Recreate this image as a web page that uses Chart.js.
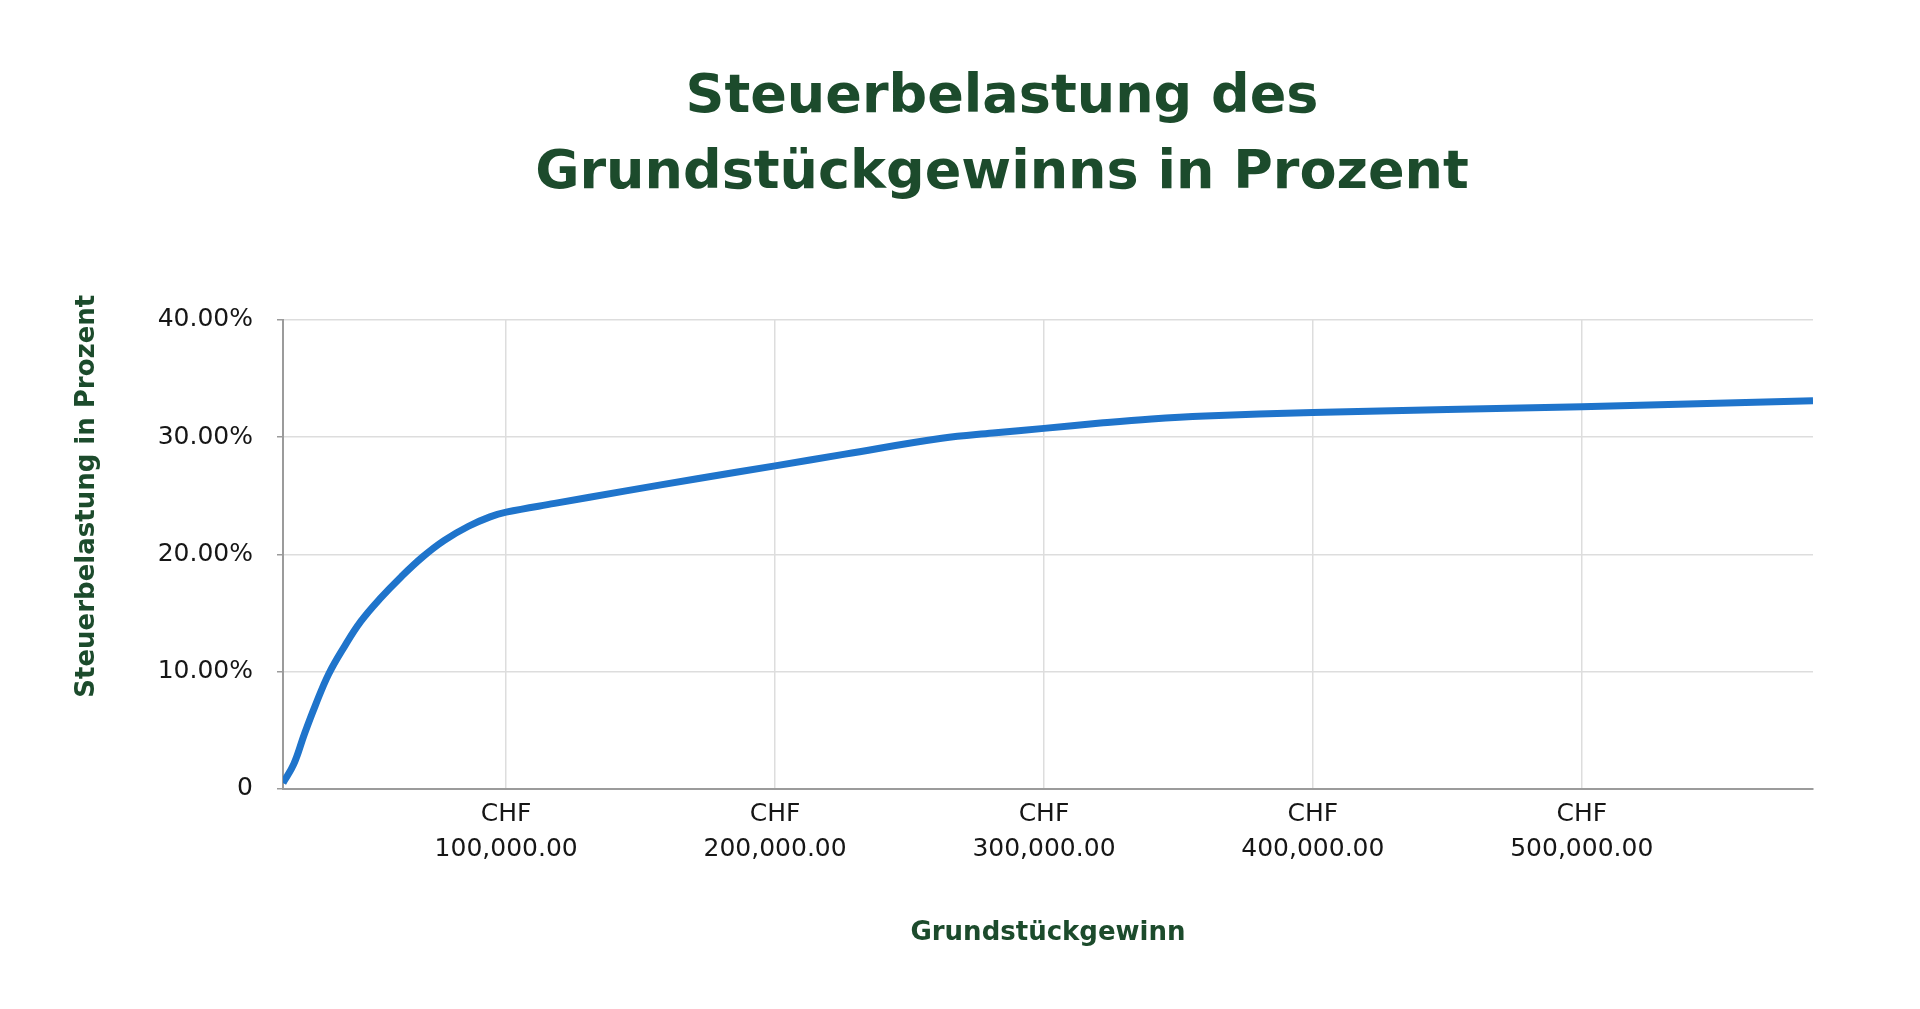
<!DOCTYPE html>
<html>
<head>
<meta charset="utf-8">
<script src="https://cdn.jsdelivr.net/npm/chart.js@4.4.1/dist/chart.umd.min.js"></script>
<style>
  html, body { margin: 0; padding: 0; background: #ffffff; }
  #c { display: block; }
</style>
</head>
<body>
<canvas id="c" width="1920" height="1009" style="width:1920px;height:1009px"></canvas>
<script>
// ---- data ----
const titleLines = ['Steuerbelastung des', 'Grundstückgewinns in Prozent'];
const xAxisTitle = 'Grundstückgewinn';
const yAxisTitle = 'Steuerbelastung in Prozent';

// Grundstückgewinn in CHF
const gains = [17000, 21000, 25000, 29000, 34000, 40000, 46000, 53000, 61000, 69000,
               77000, 86000, 94000, 100000, 118000, 144000, 171000, 200000, 226000, 262000,
               281000, 300000, 321000, 340000, 360000, 400000, 500000, 586000];
// Steuerbelastung in Prozent
const taxRates = [0.5, 2.1, 4.7, 7.1, 9.8, 12.2, 14.3, 16.2, 18.1, 19.8,
                  21.2, 22.4, 23.2, 23.6, 24.35, 25.4, 26.45, 27.55, 28.55, 29.9,
                  30.35, 30.75, 31.2, 31.55, 31.8, 32.1, 32.6, 33.1];

const xTickValues = [100000, 200000, 300000, 400000, 500000];
const yTickValues = [0, 10, 20, 30, 40];
const xMin = 17000, xMax = 586000;
const yMin = 0, yMax = 40;

// ---- styles ----
const FONT = '"DejaVu Sans", sans-serif';
const GREEN = '#1c4b2c';
const LINE_BLUE = '#1f74cb';
const GRID = '#dddddd';
const AXIS = '#9b9b9b';
const TEXT = '#161616';

const fmtCHF = v => ['CHF', v.toLocaleString('en-US', { minimumFractionDigits: 2, maximumFractionDigits: 2 })];
const fmtPct = v => (v === 0 ? '0' : v.toFixed(2) + '%');

const yTitlePlugin = {
  id: 'yTitle',
  afterLayout(chart) {
    // centre the main title over the region from the y-axis title column to the plot's right edge
    const t = chart.titleBlock;
    if (t) { t.left = chart.chartArea.left - 92; t.right = chart.chartArea.right; }
  },
  afterDraw(chart) {
    const { ctx, chartArea } = chart;
    ctx.save();
    ctx.fillStyle = GREEN;
    ctx.font = 'bold 26px ' + FONT;
    ctx.textAlign = 'center';
    ctx.textBaseline = 'middle';
    ctx.translate(chartArea.left - 196, chartArea.top + (chartArea.bottom - chartArea.top) * 0.376);
    ctx.rotate(-Math.PI / 2);
    ctx.fillText(yAxisTitle, 0, 0);
    ctx.restore();
  }
};

new Chart(document.getElementById('c'), {
  type: 'line',
  data: {
    datasets: [{
      data: gains.map((g, i) => ({ x: g, y: taxRates[i] })),
      borderColor: LINE_BLUE,
      borderWidth: 7,
      pointRadius: 0,
      fill: false,
      tension: 0.4,
      borderCapStyle: 'butt'
    }]
  },
  options: {
    responsive: false,
    animation: false,
    devicePixelRatio: 1,
    layout: { padding: { left: 130, right: 107, top: 60, bottom: 60 } },
    plugins: {
      legend: { display: false },
      tooltip: { enabled: false },
      title: {
        display: true,
        text: titleLines,
        color: GREEN,
        font: { family: FONT, size: 54, weight: 'bold', lineHeight: 1.407 },
        padding: { top: 0, bottom: 108 }
      }
    },
    scales: {
      x: {
        type: 'linear',
        min: xMin,
        max: xMax,
        afterBuildTicks: axis => { axis.ticks = xTickValues.map(v => ({ value: v })); },
        grid: { color: GRID, lineWidth: 1.5, drawTicks: false },
        border: { color: AXIS, width: 2 },
        ticks: {
          callback: v => fmtCHF(v),
          color: TEXT,
          font: { family: FONT, size: 25, lineHeight: 1.4 },
          padding: 8,
          maxRotation: 0,
          autoSkip: false
        },
        title: {
          display: true,
          text: xAxisTitle,
          color: GREEN,
          font: { family: FONT, size: 26, weight: 'bold', lineHeight: 1.2 },
          padding: { top: 43, bottom: 0 }
        }
      },
      y: {
        min: yMin,
        max: yMax,
        afterBuildTicks: axis => { axis.ticks = yTickValues.map(v => ({ value: v })); },
        afterFit: s => { s.width = 153; },
        grid: { color: GRID, lineWidth: 1.5, drawTicks: true, tickLength: 6, tickColor: AXIS },
        border: { color: AXIS, width: 2 },
        ticks: {
          callback: v => fmtPct(v),
          color: TEXT,
          font: { family: FONT, size: 25 },
          padding: 24
        }
      }
    }
  },
  plugins: [yTitlePlugin]
});
</script>
</body>
</html>
